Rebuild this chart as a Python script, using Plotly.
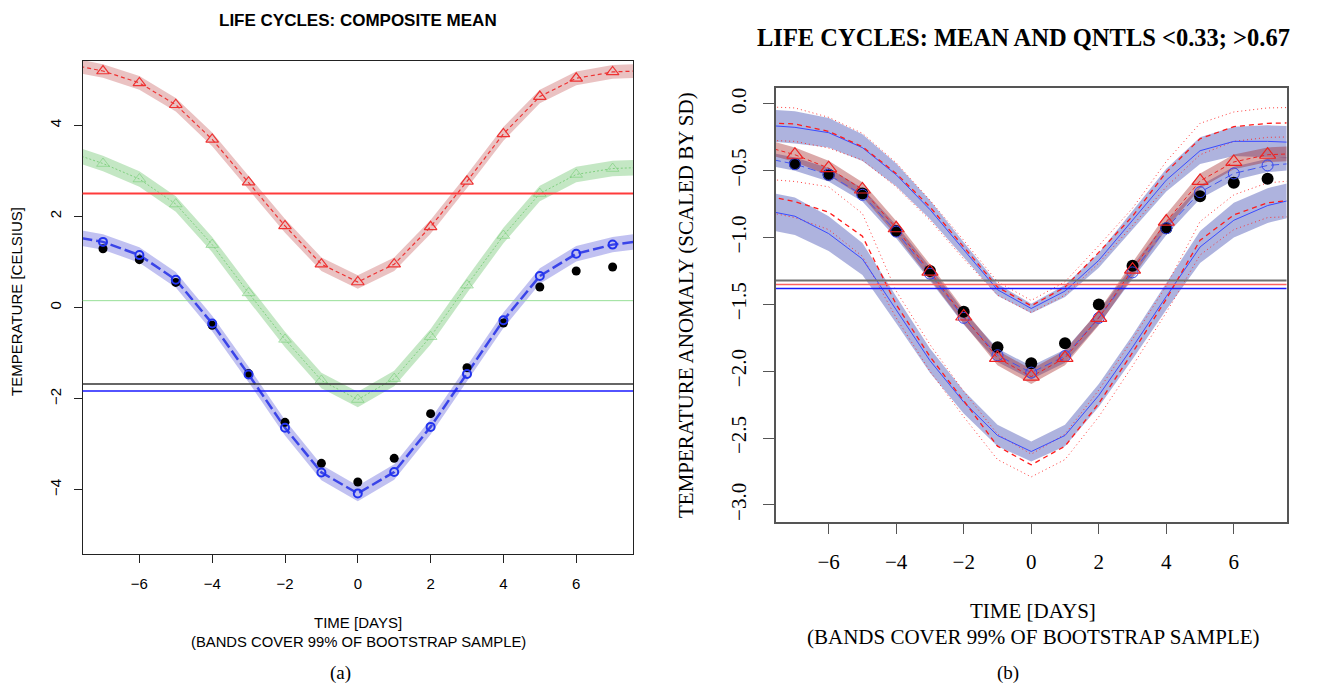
import plotly.graph_objects as go

# ---------------- data ----------------
# lines run from day -8 to 8 (clipped by the axes); markers are drawn for -7..7
days = list(range(-8, 9))
mark_days = list(range(-7, 8))

# panel (a): composite mean temperature [Celsius]
a_red = [5.35, 5.19, 4.93, 4.45, 3.69, 2.75, 1.79, 0.95, 0.56, 0.95, 1.77, 2.77, 3.81, 4.63, 5.03, 5.17, 5.20]
a_green = [3.43, 3.16, 2.82, 2.27, 1.38, 0.32, -0.70, -1.60, -2.02, -1.56, -0.64, 0.49, 1.58, 2.50, 2.92, 3.05, 3.08]
a_blue = [1.58, 1.44, 1.15, 0.61, -0.35, -1.47, -2.64, -3.62, -4.08, -3.61, -2.62, -1.46, -0.28, 0.69, 1.18, 1.38, 1.48]
a_black = [1.29, 1.05, 0.55, -0.39, -1.45, -2.52, -3.42, -3.83, -3.31, -2.33, -1.32, -0.34, 0.45, 0.80, 0.89]
a_red_hw = 0.15
a_green_hw = 0.17
a_blue_hw = 0.17
a_hlines = {"red": 2.50, "green": 0.15, "black": -1.68, "blue": -1.83}

# panel (b): anomaly scaled by SD, mean and quantile composites
b_up_blue = [-0.157, -0.175, -0.215, -0.327, -0.53, -0.79, -1.09, -1.39, -1.53, -1.40, -1.17, -0.87, -0.57, -0.35, -0.28, -0.28, -0.29]
b_up_hw = [0.12, 0.12, 0.11, 0.10, 0.085, 0.07, 0.055, 0.045, 0.035, 0.045, 0.055, 0.07, 0.085, 0.10, 0.11, 0.12, 0.12]
b_up_dash = [-0.14, -0.15, -0.205, -0.32, -0.52, -0.77, -1.07, -1.37, -1.51, -1.37, -1.11, -0.84, -0.51, -0.26, -0.17, -0.145, -0.14]
b_up_dot_hi = [-0.02, -0.03, -0.10, -0.22, -0.44, -0.72, -1.02, -1.33, -1.47, -1.33, -1.06, -0.78, -0.43, -0.145, -0.06, -0.03, -0.025]
b_up_dot_lo = [-0.27, -0.28, -0.33, -0.42, -0.62, -0.87, -1.16, -1.43, -1.56, -1.43, -1.19, -0.91, -0.62, -0.38, -0.28, -0.25, -0.245]

b_lo_blue = [-0.79, -0.84, -0.97, -1.16, -1.54, -1.92, -2.23, -2.48, -2.60, -2.48, -2.18, -1.82, -1.44, -1.07, -0.87, -0.76, -0.70]
b_lo_hw = [0.14, 0.14, 0.13, 0.12, 0.10, 0.09, 0.085, 0.08, 0.075, 0.08, 0.085, 0.09, 0.10, 0.12, 0.13, 0.13, 0.13]
b_lo_dash = [-0.68, -0.73, -0.81, -0.99, -1.50, -1.89, -2.22, -2.56, -2.70, -2.56, -2.24, -1.86, -1.46, -1.02, -0.83, -0.74, -0.71]
b_lo_dot_hi = [-0.56, -0.58, -0.62, -0.82, -1.40, -1.80, -2.15, -2.47, -2.62, -2.47, -2.14, -1.76, -1.36, -0.88, -0.68, -0.59, -0.57]
b_lo_dot_lo = [-0.80, -0.85, -0.94, -1.14, -1.60, -2.00, -2.34, -2.66, -2.79, -2.66, -2.34, -1.96, -1.56, -1.13, -0.94, -0.85, -0.84]

b_mid_red = [-0.31, -0.38, -0.48, -0.64, -0.93, -1.255, -1.59, -1.90, -2.04, -1.90, -1.60, -1.24, -0.88, -0.576, -0.434, -0.38, -0.37]
b_mid_blue = [-0.40, -0.45, -0.53, -0.68, -0.955, -1.27, -1.60, -1.88, -2.01, -1.886, -1.60, -1.26, -0.93, -0.66, -0.52, -0.46, -0.44]
b_black = [-0.45, -0.53, -0.67, -0.95, -1.25, -1.555, -1.82, -1.94, -1.79, -1.50, -1.21, -0.93, -0.69, -0.59, -0.56]
b_mid_red_hw = 0.055
b_mid_blue_hw = 0.05
b_hlines = {"gray": -1.32, "red": -1.35, "blue": -1.38}

# ---------------- styling ----------------
SANS = "Liberation Sans Narrow, Liberation Sans, Arial, sans-serif"
SERIF = "Liberation Serif, Times New Roman, serif"
W, H = 1317, 687

fig = go.Figure()


def band(center, hw, color, xa, ya):
    if isinstance(hw, (int, float)):
        hw = [hw] * len(center)
    hi = [c + h for c, h in zip(center, hw)]
    lo = [c - h for c, h in zip(center, hw)]
    fig.add_trace(go.Scatter(
        x=days + days[::-1], y=hi + lo[::-1], mode="lines", fill="toself",
        fillcolor=color, line=dict(width=0), hoverinfo="skip",
        showlegend=False, xaxis=xa, yaxis=ya))


def line(y, color, width, dash, xa, ya):
    fig.add_trace(go.Scatter(
        x=days, y=y, mode="lines", line=dict(color=color, width=width, dash=dash),
        hoverinfo="skip", showlegend=False, xaxis=xa, yaxis=ya))


def marks(y, symbol, size, color, lw, xa, ya):
    fig.add_trace(go.Scatter(
        x=mark_days, y=y, mode="markers",
        marker=dict(symbol=symbol, size=size, color=color, line=dict(color=color, width=lw)),
        hoverinfo="skip", showlegend=False, xaxis=xa, yaxis=ya, cliponaxis=True))


# ---- panel (a) ----
band(a_red, a_red_hw, "rgba(190,70,70,0.33)", "x", "y")
band(a_green, a_green_hw, "rgba(60,175,60,0.30)", "x", "y")
band(a_blue, a_blue_hw, "rgba(50,50,210,0.30)", "x", "y")
line(a_red, "#ee3333", 1.2, "4px,3px", "x", "y")
line(a_green, "rgba(120,205,120,0.9)", 1, "2px,2px", "x", "y")
line(a_blue, "#3a44e8", 2.5, "11px,4px", "x", "y")
marks(a_red[1:-1], "triangle-up-open", 11, "#ee3333", 1.2, "x", "y")
marks(a_green[1:-1], "triangle-up-open", 11, "rgba(130,210,130,0.7)", 1, "x", "y")
marks(a_black, "circle", 9, "black", 0, "x", "y")
marks(a_blue[1:-1], "circle-open", 8, "#2233ee", 2, "x", "y")

# ---- panel (b) ----
BLUE_BAND = "rgba(42,55,167,0.38)"
band(b_up_blue, b_up_hw, BLUE_BAND, "x2", "y2")
band(b_lo_blue, b_lo_hw, BLUE_BAND, "x2", "y2")
band(b_mid_blue, b_mid_blue_hw, BLUE_BAND, "x2", "y2")
band(b_mid_red, b_mid_red_hw, "rgba(160,30,30,0.38)", "x2", "y2")
for arr in (b_up_dot_hi, b_up_dot_lo, b_lo_dot_hi, b_lo_dot_lo):
    line(arr, "rgba(255,40,40,0.9)", 1, "1px,3px", "x2", "y2")
line(b_up_blue, "#3a4bff", 1, "solid", "x2", "y2")
line(b_lo_blue, "#3a4bff", 1, "solid", "x2", "y2")
line(b_up_dash, "#ff1a1a", 1.3, "5px,4px", "x2", "y2")
line(b_lo_dash, "#ff1a1a", 1.3, "5px,4px", "x2", "y2")
line(b_mid_blue, "#4455ee", 1, "8px,4px", "x2", "y2")
line(b_mid_red, "#ee2222", 1, "4px,3px", "x2", "y2")
marks(b_black, "circle", 12, "black", 0, "x2", "y2")
marks(b_mid_blue[1:-1], "circle-open", 11, "#3344ee", 1, "x2", "y2")
marks(b_mid_red[1:-1], "triangle-up-open", 14, "#ee2222", 1.2, "x2", "y2")

# horizontal reference levels
shapes = []
for key, col, w in (("red", "#ff3b3b", 2), ("green", "rgba(140,220,140,0.9)", 1),
                    ("black", "#333333", 1.5), ("blue", "#1a1aff", 1.5)):
    shapes.append(dict(type="line", xref="x domain", yref="y", x0=0, x1=1,
                       y0=a_hlines[key], y1=a_hlines[key], line=dict(color=col, width=w)))
for key, col, w in (("gray", "#707070", 2), ("red", "#ff6060", 1.5), ("blue", "#1a1aff", 1.5)):
    shapes.append(dict(type="line", xref="x2 domain", yref="y2", x0=0, x1=1,
                       y0=b_hlines[key], y1=b_hlines[key], line=dict(color=col, width=w)))

# ---------------- axes ----------------
xticks = [-6, -4, -2, 0, 2, 4, 6]
axis_common = dict(showgrid=False, zeroline=False, showline=True, mirror=True,
                   ticks="outside")

fig.update_layout(
    width=W, height=H, autosize=False,
    margin=dict(l=0, r=0, t=0, b=0),
    paper_bgcolor="white", plot_bgcolor="white",
    shapes=shapes,
    xaxis=dict(domain=[82.6 / W, 633 / W], range=[-7.56, 7.56], anchor="y",
               tickvals=xticks, linecolor="#222", linewidth=1, ticklen=8, tickcolor="#222",
               tickfont=dict(family=SANS, size=15, color="black"), ticklabelstandoff=8,
               **axis_common),
    yaxis=dict(domain=[1 - 554 / H, 1 - 61 / H], range=[-5.41, 5.41], anchor="x",
               tickvals=[-4, -2, 0, 2, 4], tickangle=-90, linecolor="#222", linewidth=1,
               ticklen=8, tickcolor="#222",
               tickfont=dict(family=SANS, size=15, color="black"), ticklabelstandoff=7,
               **axis_common),
    xaxis2=dict(domain=[776 / W, 1286.5 / W], range=[-7.56, 7.56], anchor="y2",
                tickvals=xticks, linecolor="#555", linewidth=1.5, ticklen=11, tickcolor="#555",
                tickfont=dict(family=SERIF, size=21, color="black"), ticklabelstandoff=9,
                **axis_common),
    yaxis2=dict(domain=[1 - 521.7 / H, 1 - 88.3 / H], range=[-3.125, 0.117], anchor="x2",
                tickvals=[-3.0, -2.5, -2.0, -1.5, -1.0, -0.5, 0.0], tickformat=".1f",
                tickangle=-90, linecolor="#555", linewidth=1.5, ticklen=11, tickcolor="#555",
                tickfont=dict(family=SERIF, size=21, color="black"), ticklabelstandoff=9,
                **axis_common),
)

# ---------------- titles and captions ----------------
def note(text, x, y, family, size, angle=0, bold=False):
    fig.add_annotation(text=f"<b>{text}</b>" if bold else text,
                       x=x / W, y=1 - y / H, xref="paper", yref="paper",
                       xanchor="center", yanchor="middle", showarrow=False, textangle=angle,
                       font=dict(family=family, size=size, color="black"))


note("LIFE CYCLES: COMPOSITE MEAN", 358, 21, SANS, 17, bold=True)
note("TEMPERATURE [CELSIUS]", 16, 302, SANS, 15, angle=-90)
note("TIME [DAYS]", 358, 622, SANS, 15)
note("(BANDS COVER 99% OF BOOTSTRAP SAMPLE)", 358, 642, SANS, 14.8)
note("(a)", 340, 673, SERIF, 19)

note("LIFE CYCLES: MEAN AND QNTLS &lt;0.33; &gt;0.67", 1023, 38, SERIF, 24.5, bold=True)
note("TEMPERATURE ANOMALY (SCALED BY SD)", 686, 305, SERIF, 21, angle=-90)
note("TIME [DAYS]", 1033, 611, SERIF, 21)
note("(BANDS COVER 99% OF BOOTSTRAP SAMPLE)", 1033, 637, SERIF, 21)
note("(b)", 1008, 673, SERIF, 19)

fig.write_html("out.html")
